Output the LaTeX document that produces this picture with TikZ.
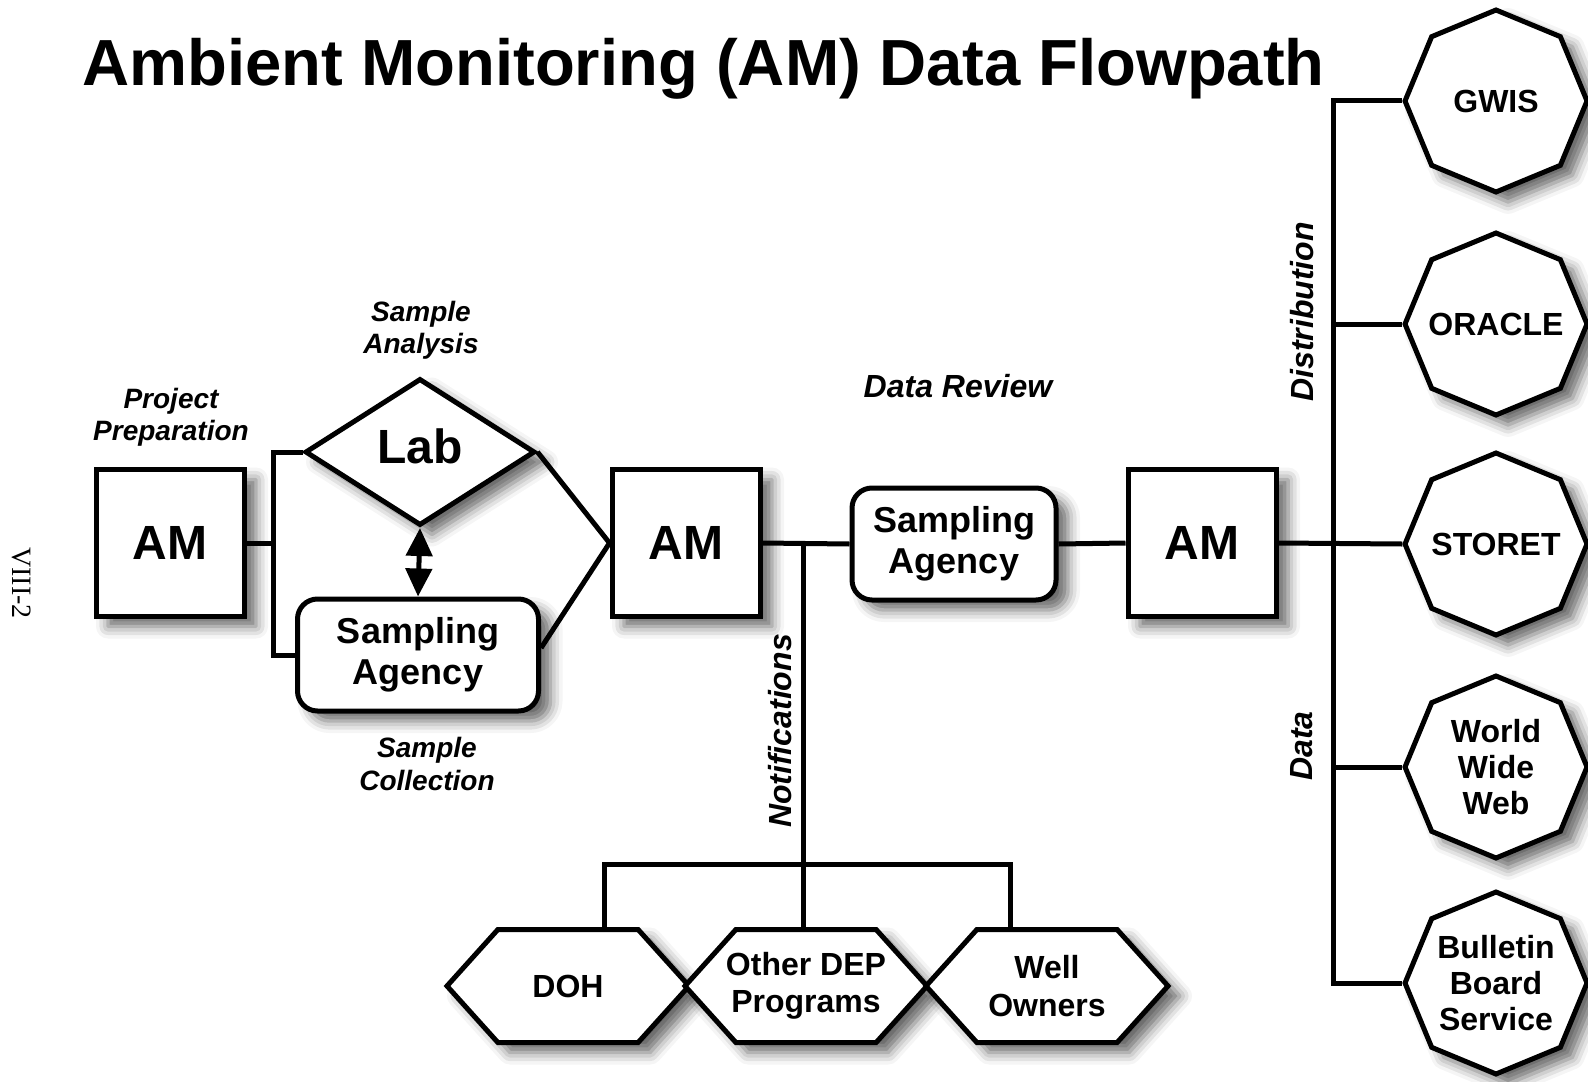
\documentclass[tikz,border=0pt]{standalone}
\usepackage{fontspec}
\setmainfont{Liberation Sans}
\newfontfamily\pagefont{Liberation Serif}
\usetikzlibrary{shapes.geometric,shapes.symbols,shadows.blur,arrows.meta,positioning}

\begin{document}
\begin{tikzpicture}[x=0.5pt,y=-0.5pt,
    dropshade/.style={blur shadow={shadow xshift=6pt,shadow yshift=-5pt,shadow blur radius=6pt,shadow opacity=60}},
    outline/.style={draw,line width=2.5pt,fill=white,inner sep=0pt,dropshade},
    ambox/.style={outline,minimum width=74pt,minimum height=73.5pt,font=\fontsize{24}{28}\selectfont\bfseries},
    agency/.style={outline,rounded corners=10pt,minimum height=56pt,align=center,font=\fontsize{18}{20.5}\selectfont\bfseries},
    lab/.style={outline,diamond,minimum width=115pt,minimum height=73.5pt,
      label={[yshift=3pt,font=\fontsize{24}{28}\selectfont\bfseries]center:#1}},
    outlet/.style={outline,regular polygon,regular polygon sides=8,shape border rotate=22.5,minimum size=91pt,
      label={[align=center,font=\fontsize{16}{18.2}\selectfont\bfseries]center:#1}},
    user/.style={outline,signal,signal to=west and east,signal pointer angle=96,minimum width=121pt,minimum height=56.5pt,
      label={[align=center,font=\fontsize{16}{18.7}\selectfont\bfseries]center:#1}},
    stage/.style={align=center,font=\fontsize{14}{16.2}\selectfont\bfseries\itshape},
    tag/.style={font=\fontsize{16}{18}\selectfont\bfseries\itshape},
    flow/.style={line width=2.5pt}]
 \useasboundingbox (0,0) rectangle (1588,1081);

 \node[anchor=base west,inner sep=0pt,font=\fontsize{32.6}{36}\selectfont\bfseries] (title) at (82,86)
   {Ambient Monitoring (AM) Data Flowpath};
 \node[rotate=-90,font=\pagefont\fontsize{14}{16}\selectfont] (page) at (22,583) {VIII-2};

 % project preparation and sampling
 \node[ambox] (am1) at (170,543) {AM};
 \node[lab={Lab}] (lab) at (420,452) {};
 \node[agency,minimum width=120.5pt] (sa1) at (418,655) {Sampling\\Agency};
 \node[stage] (prep) at (171,417) {Project\\Preparation};
 \node[stage] (analysis) at (421,330) {Sample\\Analysis};
 \node[stage] (collect) at (427,764) {Sample\\Collection};

 % review
 \node[ambox] (am2) at (686,543) {AM};
 \node[agency,minimum width=102pt] (sa2) at (954,544) {Sampling\\Agency};
 \node[ambox] (am3) at (1202,543) {AM};
 \node[tag] (review) at (958,386) {Data Review};

 % notifications
 \node[user={DOH}] (doh) at (568,986) {};
 \node[user={Other DEP\\Programs}] (dep) at (806,986) {};
 \node[user={Well\\Owners}] (well) at (1047,986) {};
 \node[tag,rotate=90] (notif) at (780,731) {Notifications};

 % distribution
 \node[outlet={GWIS}] (gwis) at (1496,101) {};
 \node[outlet={ORACLE}] (oracle) at (1496,324) {};
 \node[outlet={STORET}] (storet) at (1496,544) {};
 \node[outlet={World\\Wide\\Web}] (www) at (1496,767) {};
 \node[outlet={Bulletin\\Board\\Service}] (bbs) at (1496,983) {};
 \node[tag,rotate=90] (dist) at (1302,312) {Distribution};
 \node[tag,rotate=90] (data) at (1302,746) {Data};

 \coordinate (pp) at (273,543);
 \coordinate (nt) at (803,543);
 \coordinate (nb) at (803,864);
 \coordinate (bus) at (1333,544);

 \draw[flow] (am1.east) -- (pp);
 \draw[flow] (lab.west) -| (pp) |- (sa1.west);
 \draw[flow] (lab.east) -- (am2.west) -- ([yshift=3.5pt]sa1.east);
 \draw[flow,{Triangle[length=14pt,width=13pt]}-{Triangle[length=14pt,width=13pt]}] (lab.south) -- (sa1.north);
 \draw[flow] (am2.east) -- (sa2.west);
 \draw[flow] (sa2.east) -- (am3.west);
 \draw[flow] (nt) -- (nb);
 \draw[flow] ([xshift=18pt]doh.north) |- (nb) -| ([xshift=-18.5pt]well.north);
 \draw[flow] (nb) -- (nb |- dep.north);
 \draw[flow] (am3.east) -- (storet.west);
 \draw[flow] (gwis.west) -| (bus) |- (bbs.west);
 \draw[flow] (oracle.west) -- (oracle.west -| bus);
 \draw[flow] (www.west) -- (www.west -| bus);
\end{tikzpicture}
\end{document}
